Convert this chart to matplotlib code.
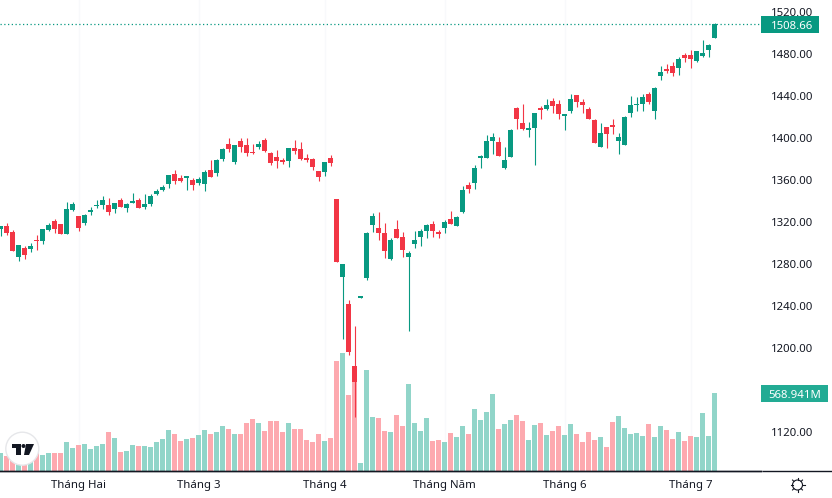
import numpy as np
import matplotlib
matplotlib.use("Agg")
import matplotlib.pyplot as plt
from matplotlib.patches import Circle, Polygon, Rectangle

plt.rcParams['font.family'] = ['Noto Sans', 'DejaVu Sans']

opens = [1313.6, 1316.2, 1310.4, 1286.6, 1295.2, 1294.3, 1302.8, 1301.9, 1312.4, 1320.9,
         1318.1, 1308.5, 1331.4, 1325.7, 1319.0, 1329.5, 1335.2, 1336.2, 1336.2, 1332.4,
         1340.9, 1333.3, 1338.1, 1340.9, 1334.3, 1337.1, 1346.6, 1350.5, 1356.2, 1365.7,
         1361.9, 1361.9, 1360.0, 1357.1, 1356.2, 1369.6, 1366.7, 1380.0, 1394.3, 1377.2,
         1397.2, 1393.4, 1386.7, 1391.5, 1398.1, 1385.8, 1382.0, 1379.1, 1378.1, 1390.5,
         1389.6, 1381.0, 1380.0, 1368.6, 1367.7, 1381.0, 1341.9, 1267.7, 1242.0, 1183.0,
         1247.7, 1266.7, 1317.2, 1314.3, 1309.6, 1284.8, 1313.4, 1305.8, 1286.7, 1299.1,
         1305.8, 1311.5, 1318.1, 1310.5, 1314.3, 1322.9, 1316.2, 1329.6, 1355.2, 1357.2,
         1381.0, 1381.0, 1397.1, 1396.2, 1371.4, 1381.9, 1428.5, 1414.3, 1407.6, 1409.5,
         1428.5, 1427.6, 1435.2, 1432.4, 1420.9, 1425.7, 1440.9, 1434.3, 1427.6, 1417.1,
         1391.4, 1410.5, 1412.4, 1397.1, 1393.3, 1423.8, 1431.4, 1432.4, 1441.9, 1425.7,
         1459.1, 1465.7, 1468.6, 1466.7, 1479.0, 1479.0, 1473.3, 1478.1, 1483.8, 1495.2]

highs = [1316.2, 1319.0, 1312.4, 1298.1, 1297.1, 1300.0, 1307.6, 1313.3, 1319.0, 1322.8,
         1318.1, 1339.0, 1339.0, 1325.7, 1327.6, 1334.3, 1340.9, 1344.7, 1342.8, 1338.1,
         1342.8, 1338.1, 1347.6, 1342.8, 1346.6, 1346.6, 1351.4, 1355.2, 1364.7, 1369.5,
         1364.7, 1363.8, 1361.9, 1362.8, 1369.6, 1379.1, 1380.0, 1390.5, 1400.0, 1393.4,
         1400.0, 1400.0, 1394.3, 1397.2, 1400.0, 1386.7, 1388.6, 1381.0, 1390.5, 1398.1,
         1396.2, 1384.8, 1381.0, 1368.6, 1377.2, 1383.9, 1341.9, 1280.0, 1245.8, 1221.0,
         1249.6, 1310.5, 1328.6, 1329.6, 1319.1, 1304.8, 1322.0, 1310.5, 1292.4, 1311.5,
         1313.4, 1318.1, 1321.0, 1312.4, 1322.0, 1330.5, 1325.7, 1354.3, 1358.1, 1374.3,
         1383.8, 1402.8, 1404.7, 1401.0, 1391.4, 1408.6, 1429.5, 1432.4, 1415.2, 1423.8,
         1430.5, 1437.1, 1438.1, 1436.2, 1422.8, 1441.9, 1440.9, 1437.1, 1429.5, 1418.1,
         1414.3, 1410.5, 1418.1, 1404.7, 1420.9, 1440.0, 1439.1, 1441.9, 1443.8, 1448.6,
         1468.6, 1470.5, 1472.4, 1477.1, 1480.9, 1483.8, 1482.9, 1493.3, 1489.5, 1509.5]

lows = [1306.6, 1307.6, 1292.3, 1282.8, 1284.7, 1291.4, 1293.3, 1299.0, 1311.4, 1309.5,
        1308.5, 1308.5, 1330.4, 1311.4, 1317.1, 1326.6, 1333.3, 1332.4, 1326.6, 1328.5,
        1334.3, 1329.5, 1338.1, 1333.3, 1332.4, 1335.2, 1345.7, 1349.5, 1352.4, 1356.2,
        1358.0, 1350.5, 1350.5, 1355.2, 1349.6, 1362.9, 1363.9, 1378.1, 1386.7, 1375.3,
        1386.7, 1382.9, 1384.8, 1389.6, 1386.7, 1374.3, 1371.5, 1375.3, 1372.4, 1384.8,
        1379.1, 1377.2, 1369.6, 1359.1, 1363.9, 1373.4, 1282.0, 1208.7, 1193.4, 1134.4,
        1247.7, 1264.8, 1310.5, 1302.9, 1285.8, 1283.9, 1304.8, 1286.7, 1216.3, 1295.3,
        1297.2, 1304.8, 1305.8, 1304.8, 1309.6, 1318.1, 1316.2, 1328.6, 1347.6, 1351.4,
        1371.4, 1381.0, 1384.8, 1382.9, 1370.5, 1381.9, 1408.6, 1407.6, 1401.0, 1374.3,
        1418.1, 1426.6, 1423.8, 1418.1, 1407.6, 1423.8, 1429.5, 1423.8, 1418.1, 1395.2,
        1391.4, 1390.5, 1403.8, 1384.8, 1393.3, 1420.0, 1425.7, 1425.7, 1432.4, 1418.1,
        1455.2, 1461.9, 1459.1, 1460.0, 1472.4, 1466.7, 1472.4, 1477.1, 1477.1, 1495.2]

closes = [1316.2, 1309.5, 1292.3, 1298.1, 1288.5, 1297.1, 1301.9, 1313.3, 1317.1, 1313.3,
          1308.5, 1332.4, 1337.1, 1314.3, 1326.6, 1331.4, 1336.2, 1340.9, 1329.5, 1338.1,
          1334.3, 1337.1, 1340.0, 1333.3, 1337.1, 1344.7, 1349.5, 1353.3, 1364.7, 1359.0,
          1359.0, 1363.8, 1355.2, 1360.9, 1367.7, 1362.9, 1379.1, 1389.6, 1389.6, 1393.4,
          1391.5, 1385.8, 1385.8, 1394.3, 1387.7, 1376.2, 1378.1, 1377.2, 1390.5, 1387.7,
          1380.0, 1379.1, 1372.4, 1362.9, 1377.2, 1376.2, 1282.0, 1280.0, 1196.3, 1167.7,
          1249.6, 1309.6, 1325.8, 1309.6, 1292.4, 1302.9, 1304.8, 1293.4, 1290.5, 1302.9,
          1311.5, 1317.2, 1311.5, 1308.6, 1320.0, 1318.1, 1324.8, 1350.5, 1351.4, 1371.4,
          1382.9, 1397.1, 1401.0, 1382.9, 1379.1, 1407.6, 1418.1, 1408.6, 1409.5, 1423.8,
          1426.6, 1431.4, 1430.5, 1422.8, 1422.8, 1437.1, 1434.3, 1431.4, 1418.1, 1395.2,
          1404.7, 1403.8, 1410.5, 1401.0, 1420.0, 1431.4, 1432.4, 1439.1, 1434.3, 1447.6,
          1462.9, 1463.8, 1461.9, 1475.2, 1476.2, 1475.2, 1482.9, 1480.9, 1488.6, 1508.66]

# volume in millions
volumes = [131.3, 109.4, 104.6, 80.2, 92.4, 104.6, 153.2, 116.7, 131.3, 131.3,
           131.3, 211.5, 167.8, 189.6, 196.9, 160.5, 182.4, 196.9, 284.5, 240.7,
           138.6, 145.9, 189.6, 182.4, 182.4, 175.1, 211.5, 233.4, 299.1, 269.9,
           218.8, 233.4, 240.7, 262.6, 299.1, 269.9, 284.5, 328.2, 306.4, 269.9,
           269.9, 350.1, 379.3, 350.1, 291.8, 364.7, 364.7, 284.5, 350.1, 306.4,
           306.4, 226.1, 211.5, 269.9, 218.8, 240.7, 802.4, 860.7, 554.4, 712.4,
           58.4, 736.7, 393.9, 386.6, 291.8, 284.5, 408.5, 328.2, 634.6, 350.1,
           291.8, 386.6, 218.8, 226.1, 211.5, 277.2, 248.0, 328.2, 269.9, 452.2,
           372.0, 430.4, 561.7, 306.4, 342.8, 372.0, 408.5, 364.7, 226.1, 335.5,
           350.1, 262.6, 291.8, 328.2, 262.6, 342.8, 269.9, 211.5, 284.5, 226.1,
           248.0, 175.1, 357.4, 401.2, 313.7, 269.9, 277.2, 255.3, 342.8, 248.0,
           328.2, 299.1, 233.4, 284.5, 218.8, 255.3, 248.0, 423.1, 255.3, 568.941]

price_ticks = [1520, 1480, 1440, 1400, 1360, 1320, 1280, 1240, 1200, 1120]
month_pos = [13, 33, 54, 74, 94, 115]
month_labels = ["Tháng Hai", "Tháng 3", "Tháng 4", "Tháng Năm", "Tháng 6", "Tháng 7"]
last_price = closes[-1]
last_volume = "568.941M"

GREEN = "#089981"
RED = "#f23645"
GREEN_VOL = "#91d5c9"
RED_VOL = "#fda9af"
TEXT = "#131722"
W, H = 832, 498
PLOT_W, PLOT_H = 761, 471

opens = np.array(opens)
closes = np.array(closes)
x = np.arange(len(opens))
up = closes >= opens

fig = plt.figure(figsize=(W / 100, H / 100), dpi=100)
rect = [0, 1 - PLOT_H / H, PLOT_W / W, PLOT_H / H]

# volume sits behind the candles, on its own scale
ax_vol = fig.add_axes(rect)
ax_vol.bar(x, volumes, width=5 / 6, color=np.where(up, GREEN_VOL, RED_VOL), linewidth=0)
ax_vol.set_ylim(0, 568.941 * PLOT_H / 78)
ax_vol.set_yticks([])

ax = fig.add_axes(rect)
ax.patch.set_alpha(0)
ax.vlines(x, lows, highs, colors=np.where(up, GREEN, RED), linewidth=0.8)
ax.bar(x, np.maximum(np.abs(closes - opens), 0.8), bottom=np.minimum(opens, closes), width=5 / 6,
       color=np.where(up, GREEN, RED), linewidth=0)
ax.axhline(last_price, color=GREEN, linewidth=0.9, linestyle=(0, (1, 2)))
ax.set_ylim(1083, 1531.4)

for a in (ax_vol, ax):
    a.set_xlim(-0.5 / 6, (PLOT_W - 0.5) / 6)
    a.set_xticks(month_pos)
    for s in ("top", "left", "right"):
        a.spines[s].set_visible(False)
    a.spines["bottom"].set_color(TEXT)
    a.spines["bottom"].set_linewidth(1.0)

ax_vol.grid(axis="x", color="#f8f9fb", linewidth=1)
ax_vol.set_axisbelow(True)
ax_vol.set_xticklabels([])
ax_vol.tick_params(axis="x", length=0)

ax.set_xticklabels(month_labels, fontsize=8.2, color=TEXT)
ax.tick_params(axis="x", length=0, pad=6.7)
ax.yaxis.tick_right()
ax.set_yticks(price_ticks)
ax.set_yticklabels([f"{p:.2f}" for p in price_ticks], fontsize=8.2, color=TEXT, va="center_baseline")
ax.tick_params(axis="y", length=0, pad=7.2)

# overlay in pixels for the badges, logo and settings icon
ov = fig.add_axes([0, 0, 1, 1])
ov.set_xlim(0, W)
ov.set_ylim(H, 0)
ov.axis("off")
ov.patch.set_alpha(0)

ov.plot([762, W], [471, 471], color=TEXT, linewidth=1.0, solid_capstyle="butt")
ov.add_patch(Rectangle((761, 16), 58, 17, facecolor=GREEN, linewidth=0))
ov.text(792, 25, f"{last_price:.2f}", color="white", fontsize=8.2, ha="center", va="center_baseline")
ov.add_patch(Rectangle((761, 385), 67, 17, facecolor="#22ab94", linewidth=0))
ov.text(794.5, 394, last_volume, color="white", fontsize=8.2, ha="center", va="center_baseline")

ov.add_patch(Circle((22.3, 448.7), 16.5, facecolor="white", edgecolor="#e6e7ea", linewidth=1))
ov.add_patch(Polygon([(12, 444), (21, 444), (21, 455), (16, 455), (16, 448), (12, 448)], facecolor=TEXT, linewidth=0))
ov.add_patch(Circle((23.5, 446), 2, facecolor=TEXT, linewidth=0))
ov.add_patch(Polygon([(26, 444), (34, 444), (29, 455), (24, 455)], facecolor=TEXT, linewidth=0))

# settings icon
ov.add_patch(Circle((797.5, 485), 5, facecolor="none", edgecolor=TEXT, linewidth=0.8))
for ang in np.arange(0, 360, 45):
    c, s = np.cos(np.radians(ang)), np.sin(np.radians(ang))
    ov.plot([797.5 + 5 * c, 797.5 + 7 * c], [485 + 5 * s, 485 + 7 * s], color=TEXT, linewidth=0.8)

fig.savefig("out.png", dpi=100, facecolor="white")
